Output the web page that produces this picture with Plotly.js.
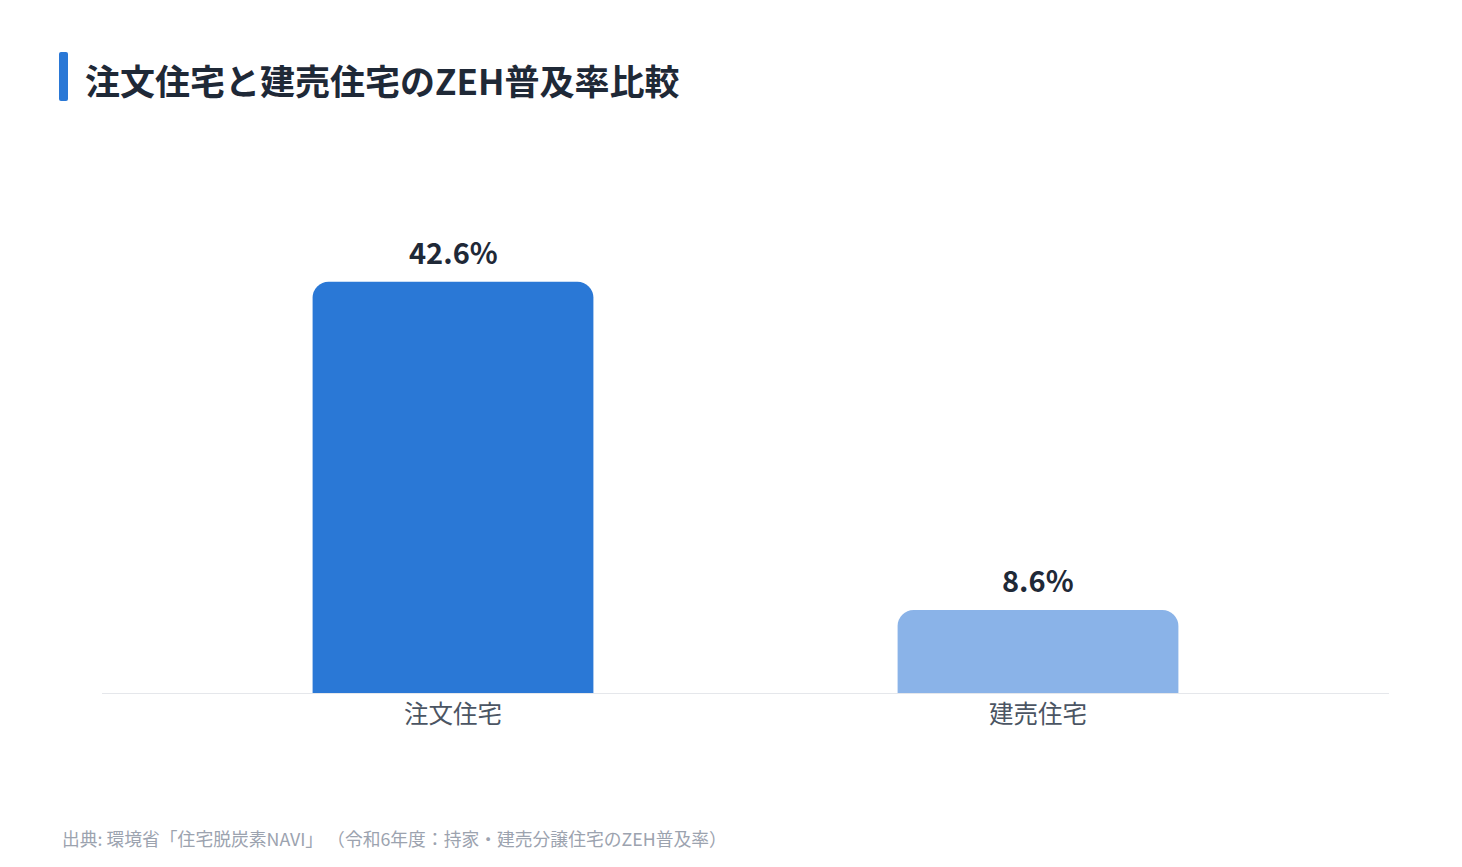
<!DOCTYPE html>
<html>
<head>
<meta charset="utf-8">
<script src="https://cdn.plot.ly/plotly-3.0.1.min.js"></script>
<style>
  html, body { margin: 0; padding: 0; background: #fff; }
  #chart { width: 1462px; height: 867px; }
</style>
</head>
<body>
<div id="chart"></div>
<script>
const categories = ['注文住宅', '建売住宅'];
const zehRates = [42.6, 8.6];
const barColors = ['#2a78d6', '#8ab3e8'];

const FONT = '"Noto Sans CJK JP", "Noto Sans", sans-serif';
const chartElement = document.getElementById('chart');

const trace = {
    type: 'bar',
    x: categories,
    y: zehRates,
    marker: { color: barColors, cornerradius: 16, line: { width: 0 } },
    hoverinfo: 'skip'
};

// value labels above each bar
const valueLabels = categories.map((c, i) => ({
    x: c,
    y: zehRates[i],
    xref: 'x',
    yref: 'y',
    text: '<b>' + zehRates[i].toFixed(1) + '%</b>',
    showarrow: false,
    yanchor: 'bottom',
    yshift: 8,
    font: { family: FONT, size: 29, color: '#1f2937' }
}));

const layout = {
    width: 1462,
    height: 867,
    plot_bgcolor: 'white',
    paper_bgcolor: 'white',
    font: { family: FONT, color: '#4b5563' },
    showlegend: false,
    bargap: 0.52,
    margin: { l: 102, r: 73, t: 140, b: 174, pad: 0 },
    title: {
        text: '<b>注文住宅と建売住宅のZEH普及率比較</b>',
        font: { family: FONT, size: 35, color: '#1f2937' },
        x: 0, xref: 'paper', xanchor: 'left',
        y: 1, yref: 'container', yanchor: 'top',
        pad: { l: -17, t: 70 }
    },
    xaxis: {
        range: [-0.6, 1.6],
        showgrid: false,
        zeroline: false,
        showline: true,
        linecolor: '#e5e7eb',
        linewidth: 1,
        ticks: '',
        ticklabelstandoff: 0,
        tickfont: { family: FONT, size: 24.5, color: '#4b5563' },
        fixedrange: true
    },
    yaxis: {
        range: [0, 57.3],
        visible: false,
        showgrid: false,
        zeroline: false,
        fixedrange: true
    },
    shapes: [{
        type: 'path',
        xref: 'paper', yref: 'paper',
        xsizemode: 'pixel', ysizemode: 'pixel',
        xanchor: 0, yanchor: 1,
        // small rounded accent bar left of the title
        path: 'M -41 88 L -36 88 Q -34 88 -34 86 L -34 41 Q -34 39 -36 39 L -41 39 Q -43 39 -43 41 L -43 86 Q -43 88 -41 88 Z',
        fillcolor: '#2a78d6',
        line: { width: 0 }
    }],
    annotations: valueLabels.concat([{
        text: '出典: 環境省「住宅脱炭素NAVI」 （令和6年度：持家・建売分譲住宅のZEH普及率）',
        xref: 'paper', yref: 'paper',
        x: 0, y: 0,
        xanchor: 'left', yanchor: 'middle',
        xshift: -42, yshift: -145,
        showarrow: false,
        font: { family: FONT, size: 17.8, color: '#9ca3af' }
    }])
};

Plotly.newPlot(chartElement, [trace], layout, { displayModeBar: false, staticPlot: true });
</script>
</body>
</html>
